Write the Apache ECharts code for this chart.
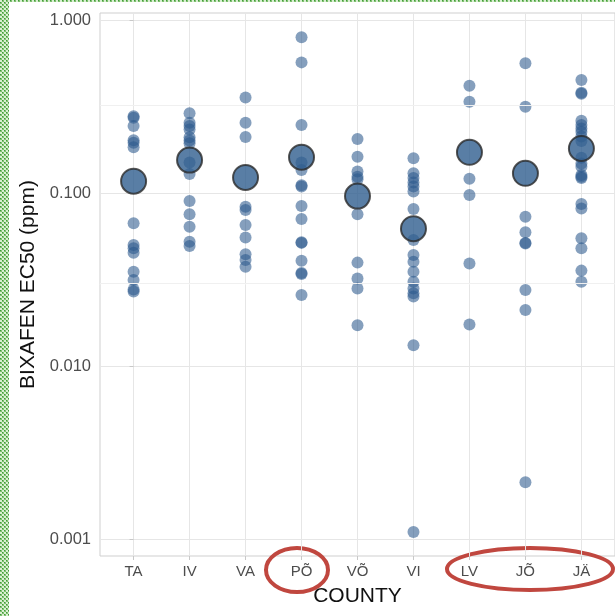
<!DOCTYPE html>
<html>
<head>
<meta charset="utf-8">
<script src="https://cdn.jsdelivr.net/npm/echarts@6/dist/echarts.min.js"></script>
<style>
html,body{margin:0;padding:0;background:#fff;}
#chart{width:615px;height:616px;}
</style>
</head>
<body>
<div id="chart"></div>
<script>
// ---- Data ----
const counties = ['TA', 'IV', 'VA', 'PÕ', 'VÕ', 'VI', 'LV', 'JÕ', 'JÄ'];

const isolatesTA = [0.278, 0.272, 0.244, 0.202, 0.195, 0.184, 0.0668, 0.050, 0.0479, 0.0451, 0.0351, 0.0314, 0.0277, 0.0270];
const isolatesIV = [0.289, 0.255, 0.244, 0.233, 0.210, 0.201, 0.194, 0.150, 0.129, 0.0899, 0.0753, 0.0639, 0.0523, 0.0494];
const isolatesVA = [0.356, 0.255, 0.211, 0.0834, 0.0797, 0.0653, 0.0554, 0.0442, 0.0410, 0.0375];
const isolatesPO = [0.794, 0.569, 0.247, 0.150, 0.136, 0.111, 0.109, 0.0841, 0.0708, 0.052, 0.0515, 0.0406, 0.0345, 0.0340, 0.0257];
const isolatesVO = [0.205, 0.162, 0.133, 0.124, 0.120, 0.0753, 0.0396, 0.0321, 0.0281, 0.0172];
const isolatesVI = [0.159, 0.130, 0.122, 0.115, 0.109, 0.102, 0.0809, 0.0535, 0.0438, 0.0401, 0.0351, 0.0307, 0.0281, 0.0263, 0.0252, 0.0132, 0.00110];
const isolatesLV = [0.417, 0.337, 0.121, 0.0973, 0.0392, 0.0174];
const isolatesJO = [0.562, 0.315, 0.0730, 0.0593, 0.0515, 0.0510, 0.0275, 0.0211, 0.00213];
const isolatesJA = [0.450, 0.380, 0.375, 0.262, 0.247, 0.236, 0.226, 0.212, 0.200, 0.160, 0.148, 0.142, 0.127, 0.124, 0.122, 0.0864, 0.0815, 0.0547, 0.0479, 0.0356, 0.0307];

const countyMeans = [0.117, 0.155, 0.123, 0.161, 0.096, 0.0622, 0.172, 0.130, 0.181];

const yTickValues = [0.001, 0.01, 0.1, 1];
const yMinorValues = [0.00316, 0.0316, 0.316];

// ---- Build series data ----
const groups = [isolatesTA, isolatesIV, isolatesVA, isolatesPO, isolatesVO, isolatesVI, isolatesLV, isolatesJO, isolatesJA];
const pointData = [];
groups.forEach((arr, i) => arr.forEach(v => pointData.push([i, v])));
const meanData = countyMeans.map((v, i) => [i, v]);

const chart = echarts.init(document.getElementById('chart'), null, {renderer: 'canvas'});

// checker pattern for the green border
const pc = document.createElement('canvas');
pc.width = 4; pc.height = 4;
const pctx = pc.getContext('2d');
pctx.fillStyle = '#7fbf6f'; pctx.fillRect(0, 0, 4, 4);
pctx.fillStyle = '#d9efd2'; pctx.fillRect(0, 0, 2, 2); pctx.fillRect(2, 2, 2, 2);
pctx.fillStyle = '#3f9a3a'; pctx.fillRect(2, 0, 1, 1); pctx.fillRect(0, 2, 1, 1);

const fontFam = '"Liberation Sans", Arial, Helvetica, sans-serif';

const option = {
  backgroundColor: '#ffffff',
  animation: false,
  grid: {
    left: 100, top: 13, right: -3, bottom: 60,
    show: true, borderColor: '#cfcfcf', borderWidth: 1, backgroundColor: 'transparent'
  },
  xAxis: {
    type: 'value',
    min: -0.6, max: 8.6,
    name: 'COUNTY', nameLocation: 'middle', nameGap: 30,
    nameTextStyle: {color: '#111', fontSize: 21, fontFamily: fontFam},
    axisLine: {show: false},
    axisTick: {show: true, customValues: [0,1,2,3,4,5,6,7,8], length: 4, lineStyle: {color: '#c8c8c8', width: 1}},
    axisLabel: {
      customValues: [0,1,2,3,4,5,6,7,8],
      formatter: v => counties[Math.round(v)] || '',
      color: '#4d4d4d', fontSize: 15, fontFamily: fontFam, margin: 8
    },
    splitLine: {show: true, lineStyle: {color: '#e6e6e6', width: 1}}
  },
  yAxis: {
    type: 'log',
    logBase: 10,
    min: Math.pow(10, -3.098), max: Math.pow(10, 0.0405),
    name: 'BIXAFEN EC50 (ppm)', nameLocation: 'middle', nameGap: 60,
    nameTextStyle: {color: '#111', fontSize: 21, fontFamily: fontFam},
    axisLine: {show: false},
    axisTick: {show: true, customValues: yTickValues, length: 4, lineStyle: {color: '#c8c8c8', width: 1}},
    axisLabel: {
      customValues: yTickValues,
      formatter: v => Number(v).toFixed(3),
      color: '#4d4d4d', fontSize: 16.5, fontFamily: fontFam, margin: 9
    },
    splitLine: {show: true, lineStyle: {color: '#e6e6e6', width: 1}}
  },
  series: [
    {
      type: 'scatter',
      data: [],
      markLine: {
        silent: true, symbol: 'none', label: {show: false},
        lineStyle: {color: '#f0f0f0', width: 1, type: 'solid'},
        data: yMinorValues.map(v => ({yAxis: v}))
      },
      z: 1
    },
    {
      type: 'scatter',
      data: pointData,
      symbolSize: 12,
      itemStyle: {color: 'rgba(43, 89, 140, 0.72)'},
      z: 2
    },
    {
      type: 'scatter',
      data: meanData,
      symbolSize: 25,
      itemStyle: {color: '#2f5e8e', borderColor: '#2a2a2a', borderWidth: 2},
      z: 3
    }
  ],
  graphic: [
    {type: 'rect', shape: {x: 0, y: 0, width: 9, height: 616}, style: {fill: {image: pc, repeat: 'repeat'}}, silent: true},
    {type: 'rect', shape: {x: 0, y: 0, width: 615, height: 2}, style: {fill: {image: pc, repeat: 'repeat'}}, silent: true},
    {type: 'ellipse', shape: {cx: 297, cy: 570, rx: 31, ry: 22}, style: {fill: 'none', stroke: '#c0473f', lineWidth: 4}, silent: true},
    {type: 'ellipse', shape: {cx: 530, cy: 569, rx: 83, ry: 21}, style: {fill: 'none', stroke: '#c0473f', lineWidth: 4}, silent: true}
  ]
};
chart.setOption(option);
</script>
</body>
</html>
